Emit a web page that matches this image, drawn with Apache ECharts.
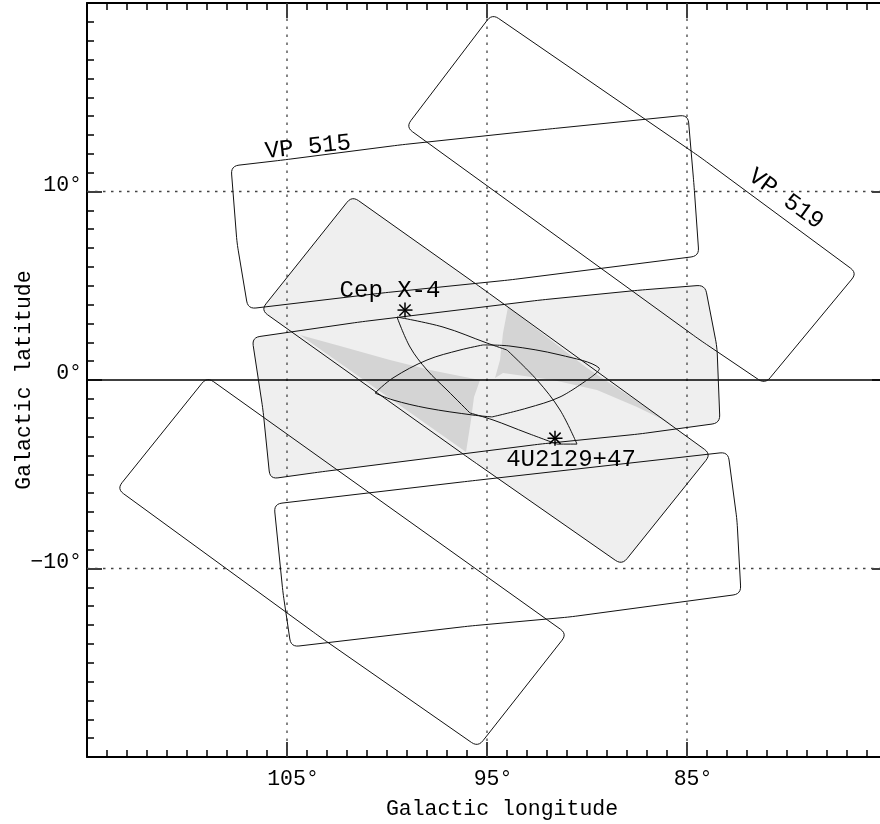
<!DOCTYPE html>
<html><head><meta charset="utf-8">
<script src="https://cdn.jsdelivr.net/npm/echarts@6/dist/echarts.min.js"></script>
<style>html,body{margin:0;padding:0;background:#fff}#c{width:880px;height:824px}</style>
</head><body><div id="c"></div>
<script>
// ---- axis ticks / grid ----
const xTickLabels = [105, 95, 85];
const yTickLabels = [10, 0, -10];
const gridLon = [105, 95, 85];
const gridLat = [10, -10];
const equatorLat = [0];

// ---- field-of-view outlines [galactic longitude, galactic latitude] ----
const vp515 = [[107.8,11.35],[105.2,11.67],[99.35,12.47],[91.85,13.32],[84.95,14.06],[84.65,10.34],[84.4,6.58],[93.85,5.31],[100.2,4.62],[106.95,3.77],[107.5,7.27]];
const vp519 = [[94.75,19.42],[84.35,11.83],[76.5,5.68],[81.1,-0.21],[84.35,2.12],[99.05,13.42]];
const fieldA = [[101.75,9.76],[95.2,4.83],[83.8,-3.93],[88.25,-9.81],[95.85,-4.19],[106.3,3.71]];
const fieldB = [[106.75,2.25],[101.35,3.08],[92.35,4.24],[87.35,4.77],[84.1,5.04],[83.5,1.75],[83.35,-2.28],[87.35,-2.86],[92.35,-3.40],[103.35,-4.88],[105.85,-5.25],[106.2,-1.59]];
const fieldC = [[109.0,0.16],[91.0,-13.47],[95.45,-19.47],[103.35,-13.63],[113.5,-5.78]];
const fieldD = [[105.65,-6.58],[95.85,-5.36],[82.95,-3.82],[82.5,-7.43],[82.3,-11.35],[90.85,-12.57],[95.85,-13.05],[104.8,-14.16],[105.2,-11.3]];

// ---- curved (lens) regions ----
const lensP = [[99.5,3.34],[97.2,2.81],[95.0,1.96],[94.0,1.59],[92.5,0],[91.35,-1.59],[90.5,-3.40],[91.5,-3.40],[93.0,-2.81],[94.7,-2.12],[95.85,-1.75],[97.0,-0.53],[98.0,0.53],[98.85,1.75]];
const lensQ = [[100.6,-0.69],[99.7,0.11],[98.0,1.06],[96.35,1.59],[95.2,1.86],[93.85,1.80],[91.35,1.33],[89.4,0.64],[90.0,0],[91.35,-0.90],[93.0,-1.49],[94.75,-1.96],[95.7,-1.86],[98.0,-1.49],[99.7,-1.06]];

// ---- darker exposure regions ----
const darkL = [[104.35,2.39],[102.35,1.80],[99.85,1.06],[97.85,0.53],[95.35,0],[95.65,-0.90],[95.8,-2.12],[96.05,-3.82]];
const darkR = [[93.95,3.87],[90.0,0.64],[85.85,-2.28],[85.35,-2.55],[87.5,-1.43],[89.5,-0.53],[91.7,0],[94.2,0.37],[94.6,0.11],[94.35,1.06],[94.2,2.49]];

// ---- sources ----
const sourceNames = ['Cep X-4', '4U2129+47'];
const sourceLon = [99.1, 91.6];
const sourceLat = [3.71, -3.09];

// ---- text annotations ----
const labelText = ['VP 515', 'VP 519', 'Cep X-4', '4U2129+47'];
const labelLon = [103.95, 80.05, 99.85, 90.8];
const labelLat = [12.35, 9.6, 4.75, -4.24];

// ---- rendering ----
const X_MIN = 75, X_MAX = 115, Y_MIN = -20, Y_MAX = 20;
const FONT = 'Liberation Mono';
const labelRotationDeg = {'VP 515': 6, 'VP 519': -36};
// indices of the sharp corners of each lens (edges between them are drawn as smooth curves)
const lensCorners = [[0, 3, 6, 7, 10], [0, 4, 8, 11]];

const filledFields = [fieldA, fieldB];
const outlineFields = [vp515, vp519, fieldA, fieldB, fieldC, fieldD];
const lenses = [lensP, lensQ];
const darkRegions = [darkL, darkR];

function roundedPoints(pts, r) {
  const n = pts.length, out = [];
  for (let i = 0; i < n; i++) {
    const p = pts[(i - 1 + n) % n], v = pts[i], q = pts[(i + 1) % n];
    const l1 = Math.hypot(p[0]-v[0], p[1]-v[1]), l2 = Math.hypot(q[0]-v[0], q[1]-v[1]);
    const rr = Math.min(r, l1/2, l2/2);
    const a = [v[0] + (p[0]-v[0])/l1*rr, v[1] + (p[1]-v[1])/l1*rr];
    const b = [v[0] + (q[0]-v[0])/l2*rr, v[1] + (q[1]-v[1])/l2*rr];
    for (let k = 0; k <= 6; k++) {
      const t = k/6, u = 1 - t;
      out.push([u*u*a[0] + 2*u*t*v[0] + t*t*b[0], u*u*a[1] + 2*u*t*v[1] + t*t*b[1]]);
    }
  }
  return out;
}

function polySeries(list, radius, style, z) {
  return {
    type: 'custom', coordinateSystem: 'cartesian2d', xAxisIndex: 0, yAxisIndex: 0, z: z,
    silent: true, clip: false,
    data: list.map((_, i) => [i]),
    renderItem: function (params, api) {
      const pts = list[api.value(0)].map(p => api.coord(p));
      return { type: 'polygon', shape: { points: radius > 0 ? roundedPoints(pts, radius) : pts }, style: style };
    }
  };
}

const lensSeries = {
  type: 'custom', coordinateSystem: 'cartesian2d', xAxisIndex: 0, yAxisIndex: 0, z: 5,
  silent: true, clip: false,
  data: lenses.map((_, i) => [i]),
  renderItem: function (params, api) {
    const i = api.value(0);
    const pts = lenses[i].map(p => api.coord(p));
    const cs = lensCorners[i], n = pts.length, children = [];
    for (let k = 0; k < cs.length; k++) {
      const s = cs[k], e = cs[(k + 1) % cs.length];
      const seg = [];
      for (let j = s; ; j = (j + 1) % n) { seg.push(pts[j]); if (j === e) break; }
      children.push({ type: 'polyline', shape: { points: seg, smooth: 0.35 }, style: { fill: null, stroke: '#111', lineWidth: 1 } });
    }
    return { type: 'group', children: children };
  }
};

function gridSeries(values, vertical, style, z) {
  return {
    type: 'custom', coordinateSystem: 'cartesian2d', xAxisIndex: 0, yAxisIndex: 0, z: z,
    silent: true, clip: false,
    data: values.map((_, i) => [i]),
    renderItem: function (params, api) {
      const v = values[api.value(0)];
      const p1 = vertical ? api.coord([v, Y_MIN]) : api.coord([X_MAX, v]);
      const p2 = vertical ? api.coord([v, Y_MAX]) : api.coord([X_MIN, v]);
      return { type: 'line', shape: { x1: p1[0], y1: p1[1], x2: p2[0], y2: p2[1] }, style: style };
    }
  };
}

const starSeries = {
  type: 'custom', coordinateSystem: 'cartesian2d', xAxisIndex: 0, yAxisIndex: 0, z: 6,
  silent: true, clip: false,
  data: sourceNames.map((_, i) => [i]),
  renderItem: function (params, api) {
    const i = api.value(0);
    const c = api.coord([sourceLon[i], sourceLat[i]]);
    const s = 7.5, st = { stroke: '#000', lineWidth: 1.5 };
    const segs = [[0, -s, 0, s], [-s, 0, s, 0], [-s*0.75, -s*0.75, s*0.75, s*0.75], [-s*0.75, s*0.75, s*0.75, -s*0.75]];
    return { type: 'group', children: segs.map(g => ({ type: 'line', shape: { x1: c[0]+g[0], y1: c[1]+g[1], x2: c[0]+g[2], y2: c[1]+g[3] }, style: st })) };
  }
};

const textSeries = {
  type: 'custom', coordinateSystem: 'cartesian2d', xAxisIndex: 0, yAxisIndex: 0, z: 7,
  silent: true, clip: false,
  data: labelText.map((_, i) => [i]),
  renderItem: function (params, api) {
    const i = api.value(0);
    const c = api.coord([labelLon[i], labelLat[i]]);
    const rot = (labelRotationDeg[labelText[i]] || 0) * Math.PI / 180;
    return { type: 'text', x: c[0], y: c[1], rotation: rot,
      style: { text: labelText[i], fill: '#000', font: '24px "' + FONT + '"', align: 'center', verticalAlign: 'middle' } };
  }
};

function xAxisCfg(pos, showLabel) {
  return {
    type: 'value', position: pos, min: X_MIN, max: X_MAX, interval: 10, inverse: true,
    axisLine: { show: true, onZero: false, lineStyle: { color: '#000', width: 2 } },
    axisTick: { show: true, inside: true, length: 15, lineStyle: { color: '#000', width: 1.5 } },
    minorTick: { show: true, splitNumber: 10, length: 7, lineStyle: { color: '#000', width: 1.5 } },
    splitLine: { show: false }, minorSplitLine: { show: false },
    axisLabel: { show: showLabel, margin: 11, color: '#000', fontFamily: FONT, fontSize: 21.5, padding: [0, 0, 0, 12],
      formatter: v => xTickLabels.includes(v) ? v + '°' : '' },
    name: showLabel ? 'Galactic longitude' : '', nameLocation: 'middle', nameGap: 41,
    nameTextStyle: { color: '#000', fontFamily: FONT, fontSize: 21.5, padding: [0, 0, 0, 30] }
  };
}
function yAxisCfg(pos, showLabel) {
  return {
    type: 'value', position: pos, min: Y_MIN, max: Y_MAX, interval: 10,
    axisLine: { show: true, onZero: false, lineStyle: { color: '#000', width: 2 } },
    axisTick: { show: true, inside: true, length: 15, lineStyle: { color: '#000', width: 1.5 } },
    minorTick: { show: true, splitNumber: 10, length: 7, lineStyle: { color: '#000', width: 1.5 } },
    splitLine: { show: false }, minorSplitLine: { show: false },
    axisLabel: { show: showLabel, margin: 5, color: '#000', fontFamily: FONT, fontSize: 21.5,
      verticalAlign: 'bottom', lineHeight: 13,
      formatter: v => yTickLabels.includes(v) ? (v < 0 ? '\u2212' + Math.abs(v) : v) + '°' : '' },
    name: showLabel ? 'Galactic latitude' : '', nameLocation: 'middle', nameGap: 52, nameMoveOverlap: false,
    nameTextStyle: { color: '#000', fontFamily: FONT, fontSize: 21.5 }
  };
}

const chart = echarts.init(document.getElementById('c'), null, { renderer: 'canvas' });
chart.setOption({
  animation: false,
  backgroundColor: '#fff',
  grid: { left: 87, right: -7, top: 3, bottom: 67, containLabel: false, outerBoundsMode: 'none' },
  xAxis: [xAxisCfg('bottom', true), xAxisCfg('top', false)],
  yAxis: [yAxisCfg('left', true), yAxisCfg('right', false)],
  series: [
    polySeries(filledFields, 8, { fill: '#efefef', stroke: null }, 1),
    polySeries(darkRegions, 0, { fill: '#d4d4d4', stroke: null }, 2),
    gridSeries(gridLon, true, { stroke: '#444', lineWidth: 1.3, lineDash: [2.5, 5.5] }, 3),
    gridSeries(gridLat, false, { stroke: '#444', lineWidth: 1.3, lineDash: [2.5, 5.5] }, 3),
    gridSeries(equatorLat, false, { stroke: '#000', lineWidth: 1.3 }, 3),
    polySeries(outlineFields, 8, { fill: null, stroke: '#111', lineWidth: 1 }, 4),
    lensSeries,
    starSeries,
    textSeries
  ]
});
</script></body></html>
